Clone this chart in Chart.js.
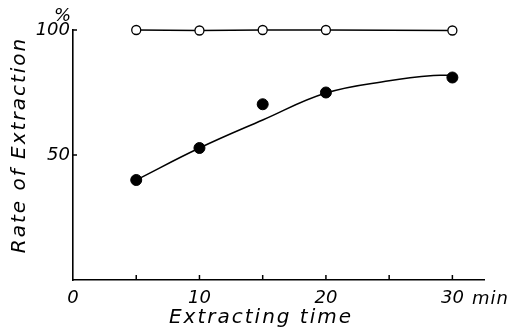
<!DOCTYPE html>
<html>
<head>
<meta charset="utf-8">
<script src="https://cdn.jsdelivr.net/npm/chart.js@4/dist/chart.umd.min.js"></script>
<style>
  html, body { margin: 0; padding: 0; background: #fff; }
  #wrap { width: 515px; height: 331px; position: relative; }
</style>
</head>
<body>
<div id="wrap"><canvas id="c" width="515" height="331"></canvas></div>
<script>
// ---- data ----
const timesMin = [5, 10, 15, 20, 30];
const totalRecovery = [100, 99.8, 100, 100, 99.8];      // open circles
const extractionRate = [40, 52.8, 70.3, 75, 81];        // filled circles
const curveTimes = [5, 10, 15, 20, 25, 28.5, 30];       // smooth fitted curve
const curveRate = [40, 52.8, 64, 74.8, 79.7, 81.8, 81.8];
const xTickLabels = [0, 10, 20, 30];
const yTickLabels = [50, 100];
const xTickMarks = [5, 10, 15, 20, 25, 30];
const yTickMarks = [50, 100];
const xTitle = 'Extracting time';
const yTitle = 'Rate of Extraction';
const xUnit = 'min';
const yUnit = '%';

const toXY = (xs, ys) => xs.map((x, i) => ({ x: x, y: ys[i] }));
const FONT = "'DejaVu Sans', sans-serif";

const annot = {
  id: 'annot',
  afterDraw(chart) {
    const ctx = chart.ctx;
    const xs = chart.scales.x, ys = chart.scales.y;
    const area = chart.chartArea;
    ctx.save();
    ctx.strokeStyle = '#000';
    ctx.lineWidth = 1.5;
    // inward tick marks
    xTickMarks.forEach(v => {
      const px = xs.getPixelForValue(v);
      ctx.beginPath(); ctx.moveTo(px, area.bottom); ctx.lineTo(px, area.bottom - 5); ctx.stroke();
    });
    yTickMarks.forEach(v => {
      const py = ys.getPixelForValue(v);
      ctx.beginPath(); ctx.moveTo(area.left, py); ctx.lineTo(area.left + 4, py); ctx.stroke();
    });
    ctx.fillStyle = '#000';
    ctx.font = 'italic 20px ' + FONT;
    ctx.letterSpacing = '2px';
    // x title
    ctx.textAlign = 'center';
    ctx.textBaseline = 'alphabetic';
    ctx.fillText(xTitle, 261, 323);
    // y title
    ctx.save();
    ctx.translate(25, 145);
    ctx.rotate(-Math.PI / 2);
    ctx.fillText(yTitle, 0, 0);
    ctx.restore();
    // units
    ctx.font = 'italic 18px ' + FONT;
    ctx.letterSpacing = '1px';
    ctx.textAlign = 'left';
    ctx.fillText(xUnit, 472, 304);
    ctx.textAlign = 'center';
    ctx.fillText(yUnit, 63, 21);
    ctx.restore();
  }
};

new Chart(document.getElementById('c'), {
  type: 'scatter',
  data: {
    datasets: [
      {
        label: 'total',
        data: toXY(timesMin, totalRecovery),
        showLine: true,
        borderColor: '#000',
        borderWidth: 1.3,
        backgroundColor: '#fff',
        pointBorderColor: '#000',
        pointBackgroundColor: '#fff',
        pointBorderWidth: 1.3,
        pointRadius: 4.5,
        order: 0
      },
      {
        label: 'curve',
        data: toXY(curveTimes, curveRate),
        showLine: true,
        borderColor: '#000',
        borderWidth: 1.5,
        pointRadius: 0,
        tension: 0.4,
        order: 2
      },
      {
        label: 'extraction',
        data: toXY(timesMin, extractionRate),
        showLine: false,
        pointBackgroundColor: '#000',
        pointBorderColor: '#000',
        pointRadius: 5.5,
        order: 1
      }
    ]
  },
  options: {
    responsive: false,
    animation: false,
    clip: false,
    layout: { padding: { left: 0, right: 31, top: 30, bottom: 0 } },
    plugins: { legend: { display: false }, tooltip: { enabled: false } },
    scales: {
      x: {
        type: 'linear',
        min: 0, max: 32.5,
        grid: { display: false, drawTicks: false },
        border: { display: true, color: '#000', width: 1.6 },
        afterFit: s => { s.height = 51; },
        afterBuildTicks: s => { s.ticks = xTickLabels.map(v => ({ value: v })); },
        ticks: {
          color: '#000',
          padding: 8,
          maxRotation: 0,
          font: { family: FONT, size: 18, style: 'italic' },
          callback: v => String(v)
        }
      },
      y: {
        type: 'linear',
        min: 0, max: 100,
        grid: { display: false, drawTicks: false },
        border: { display: true, color: '#000', width: 1.6 },
        afterFit: s => { s.width = 73; },
        afterBuildTicks: s => { s.ticks = yTickLabels.map(v => ({ value: v })); },
        ticks: {
          color: '#000',
          padding: 3,
          font: { family: FONT, size: 18, style: 'italic' },
          callback: v => String(v)
        }
      }
    }
  },
  plugins: [annot]
});
</script>
</body>
</html>
